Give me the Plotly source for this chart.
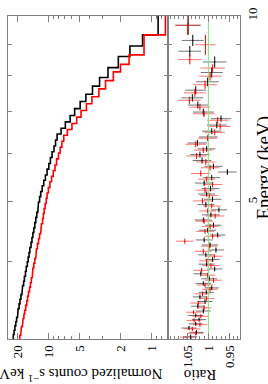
import plotly.graph_objects as go

# ---------------- data ----------------
black_edges = [3.00, 3.05, 3.10, 3.15, 3.20, 3.25, 3.30, 3.36, 3.42, 3.48, 3.54, 3.60, 3.66, 3.72,
               3.79, 3.86, 3.93, 4.00, 4.07, 4.14, 4.22, 4.30, 4.38, 4.46, 4.54, 4.63, 4.72, 4.81,
               4.90, 5.00, 5.10, 5.20, 5.31, 5.42, 5.53, 5.65, 5.77, 5.90, 6.03, 6.16, 6.30, 6.44,
               6.58, 6.74, 6.90, 7.08, 7.27, 7.47, 7.70, 7.95, 8.25, 8.60, 8.94, 9.32, 10.0]
black_counts = [22.2, 21.8, 21.4, 21.0, 20.6, 20.2, 19.9, 19.5, 19.1, 18.7, 18.3, 18.0, 17.6, 17.3,
                16.9, 16.6, 16.2, 15.9, 15.6, 15.3, 14.9, 14.6, 14.3, 14.0, 13.7, 13.4, 13.1, 12.8,
                12.6, 12.3, 12.0, 11.6, 11.2, 10.8, 10.4, 10.0, 9.65, 9.3, 8.9, 8.6, 8.3, 7.6,
                6.9, 6.2, 5.6, 4.95, 4.35, 3.75, 3.2, 2.65, 2.1, 1.62, 1.22, 0.86]
black_ratio = [1.042, 1.028, 1.046, 1.030, 1.022, 1.030, 1.012, 1.025, 1.008, 1.020,
               1.005, 0.992, 1.012, 0.998, 1.018, 0.985, 1.004,
               0.990, 1.006, 0.982, 0.996, 1.010, 0.978,
               1.002, 0.988, 1.012, 0.994, 0.975, 1.006, 0.990, 1.004,
               0.995, 1.010, 0.992, 0.955, 0.988, 1.015,
               1.020, 1.004, 1.026, 1.000, 0.992, 0.980, 0.970,
               1.012, 1.025, 1.038, 1.030, 1.002, 0.992, 0.985, 1.044, 1.037, 1.048]
black_ratio_err = [0.016, 0.017, 0.018, 0.016, 0.017, 0.018, 0.017, 0.016, 0.018, 0.017,
                   0.018, 0.017, 0.018, 0.019, 0.017, 0.018, 0.019, 0.017, 0.018, 0.019,
                   0.019, 0.020, 0.018, 0.020, 0.019, 0.020, 0.021, 0.019, 0.020, 0.021,
                   0.020, 0.021, 0.022, 0.020, 0.022, 0.021, 0.022, 0.023, 0.021, 0.023,
                   0.022, 0.023, 0.024, 0.024, 0.025, 0.024, 0.026, 0.025, 0.027, 0.026,
                   0.028, 0.027, 0.026, 0.030]

red_edges = [3.00, 3.04, 3.09, 3.14, 3.19, 3.24, 3.29, 3.34, 3.40, 3.46, 3.52, 3.58, 3.64, 3.70,
             3.77, 3.84, 3.91, 3.98, 4.05, 4.12, 4.20, 4.28, 4.36, 4.44, 4.52, 4.61, 4.70, 4.79,
             4.88, 4.97, 5.07, 5.17, 5.28, 5.39, 5.50, 5.62, 5.74, 5.87, 6.00, 6.13, 6.27, 6.41,
             6.55, 6.70, 6.86, 7.03, 7.21, 7.40, 7.62, 7.86, 8.12, 8.35, 8.65, 9.32, 10.0]
red_counts = [19.2, 18.8, 18.5, 18.1, 17.8, 17.5, 17.2, 16.8, 16.4, 16.1, 15.8, 15.4, 15.1, 14.8,
              14.5, 14.3, 14.0, 13.7, 13.4, 13.2, 12.9, 12.6, 12.3, 12.0, 11.8, 11.5, 11.3, 11.1,
              10.85, 10.6, 10.4, 10.1, 9.75, 9.4, 9.05, 8.7, 8.4, 8.05, 7.75, 7.45, 7.15, 6.6,
              5.95, 5.35, 4.85, 4.3, 3.8, 3.25, 2.8, 2.35, 2.0, 1.65, 1.18, 0.73]
red_ratio = [1.050, 1.030, 1.038, 1.020, 1.034, 1.018, 1.035, 1.010, 1.024, 1.004,
             1.014, 0.996, 1.008, 0.988, 1.002, 1.016, 0.994,
             1.004, 0.986, 1.012, 0.998, 1.056, 0.990, 1.008,
             0.996, 1.010, 0.984, 1.002, 0.992, 1.014, 0.998,
             1.008, 0.990, 1.004, 1.018, 0.996, 1.006,
             1.028, 1.012, 1.030, 1.002, 0.985, 0.972, 0.978,
             1.010, 1.020, 1.045, 1.032, 1.008, 0.996, 0.990, 1.044, 1.007, 1.049]
red_ratio_err = [0.017, 0.018, 0.019, 0.017, 0.018, 0.019, 0.018, 0.017, 0.019, 0.018,
                 0.019, 0.018, 0.019, 0.020, 0.018, 0.019, 0.020, 0.018, 0.019, 0.020,
                 0.020, 0.021, 0.019, 0.021, 0.020, 0.021, 0.022, 0.020, 0.021, 0.022,
                 0.021, 0.022, 0.023, 0.021, 0.023, 0.022, 0.023, 0.024, 0.022, 0.024,
                 0.023, 0.024, 0.025, 0.025, 0.026, 0.025, 0.027, 0.026, 0.028, 0.027,
                 0.029, 0.028, 0.024, 0.030]

count_ticks = [1, 2, 5, 10, 20]
count_tick_text = ["1", "2", "5", "10", "20"]
count_minor = [0.7, 0.8, 0.9, 3, 4, 6, 7, 8, 9]
ratio_ticks = [0.95, 1.0, 1.05]
ratio_tick_text = ["0.95", "1", "1.05"]
ratio_minor = [0.93, 0.94, 0.96, 0.97, 0.98, 0.99, 1.01, 1.02, 1.03, 1.04, 1.06, 1.07, 1.08, 1.09]
energy_ticks = [5, 10]
energy_tick_text = ["5", "10"]
energy_minor = [4, 6, 7, 8, 9]

# ---------------- helpers ----------------
def staircase(edges, vals):
    xs, ys = [], []
    for i, v in enumerate(vals):
        xs += [v, v]
        ys += [edges[i], edges[i + 1]]
    return xs, ys

def centers(edges):
    c = [(edges[i] + edges[i + 1]) / 2 for i in range(len(edges) - 1)]
    up = [edges[i + 1] - c[i] for i in range(len(c))]
    dn = [c[i] - edges[i] for i in range(len(c))]
    return c, up, dn

FRAME = "#808080"
FONT = "Liberation Serif"

fig = go.Figure()

# top (left) panel: step spectra
for edges, vals, col in [(black_edges, black_counts, "black"), (red_edges, red_counts, "red")]:
    xs, ys = staircase(edges, vals)
    fig.add_trace(go.Scatter(x=xs, y=ys, mode="lines", line=dict(color=col, width=1.6),
                             xaxis="x", yaxis="y", hoverinfo="skip"))

# ratio panel
for edges, rat, err, col, light in [
        (black_edges, black_ratio, black_ratio_err, "black", "rgba(0,0,0,0.55)"),
        (red_edges, red_ratio, red_ratio_err, "red", "rgba(255,0,0,0.55)")]:
    c, up, dn = centers(edges)
    fig.add_trace(go.Scatter(
        x=rat, y=c, mode="markers", marker=dict(size=1, color=col),
        error_x=dict(type="data", array=err, color=light, thickness=1, width=0),
        error_y=dict(type="data", symmetric=False, array=up, arrayminus=dn, color=col,
                     thickness=1, width=0),
        xaxis="x2", yaxis="y2", hoverinfo="skip"))

fig.add_trace(go.Scatter(x=[1.0, 1.0], y=[black_edges[0], black_edges[-1]], mode="lines",
                         line=dict(color="#7fe07f", width=1), xaxis="x2", yaxis="y2",
                         hoverinfo="skip"))

tickfont = dict(family=FONT, size=13, color="black")
common = dict(showline=True, linecolor=FRAME, linewidth=1, mirror="ticks", ticks="inside",
              tickcolor=FRAME, showgrid=False, zeroline=False, tickfont=tickfont)

fig.update_layout(
    width=268, height=384,
    margin=dict(l=8, r=27, t=13, b=45),
    paper_bgcolor="white", plot_bgcolor="white", showlegend=False,
    xaxis=dict(domain=[0, 0.691], type="log", range=[1.3979, -0.1649], anchor="y",
               tickmode="array", tickvals=count_ticks, ticktext=count_tick_text,
               tickangle=-90, ticklen=6,
               minor=dict(tickvals=count_minor, ticks="inside", ticklen=3, tickcolor=FRAME,
                          showgrid=False), **common),
    xaxis2=dict(domain=[0.691, 1], range=[1.095, 0.925], anchor="y2",
                tickmode="array", tickvals=ratio_ticks, ticktext=ratio_tick_text,
                tickangle=-90, ticklen=6,
                minor=dict(tickvals=ratio_minor, ticks="inside", ticklen=3, tickcolor=FRAME,
                           showgrid=False), **common),
    yaxis=dict(domain=[0, 1], type="log", range=[0.47712, 1.0], anchor="x",
               tickmode="array", tickvals=energy_ticks, ticktext=energy_tick_text,
               showticklabels=False, ticklen=5,
               minor=dict(tickvals=energy_minor, ticks="inside", ticklen=4, tickcolor=FRAME,
                          showgrid=False), **common),
    yaxis2=dict(domain=[0, 1], type="log", range=[0.47712, 1.0], anchor="x2", side="right",
                tickmode="array", tickvals=energy_ticks, ticktext=energy_tick_text,
                tickangle=-90, ticklen=5,
                minor=dict(tickvals=energy_minor, ticks="inside", ticklen=4, tickcolor=FRAME,
                           showgrid=False), **common),
)

def px_x(px):
    return (px - 8) / 233.0

def px_y(py):
    return (339 - py) / 326.0

fig.add_annotation(text="Normalized counts s<sup>−1</sup> keV<sup>−1</sup>", textangle=180,
                   xref="paper", yref="paper", x=px_x(76), y=px_y(376), showarrow=False,
                   xanchor="center", yanchor="middle",
                   font=dict(family=FONT, size=15, color="black"))
fig.add_annotation(text="Ratio", textangle=180, xref="paper", yref="paper",
                   x=px_x(201), y=px_y(376), showarrow=False, xanchor="center", yanchor="middle",
                   font=dict(family=FONT, size=15, color="black"))
fig.add_annotation(text="Energy (keV)", textangle=-90, xref="paper", yref="paper",
                   x=px_x(265), y=px_y(166), showarrow=False, xanchor="center", yanchor="middle",
                   font=dict(family=FONT, size=19, color="black"))

fig.write_html("out.html", config={"displayModeBar": False},
               post_script="document.body.style.margin='0';document.body.style.overflow='hidden';")
